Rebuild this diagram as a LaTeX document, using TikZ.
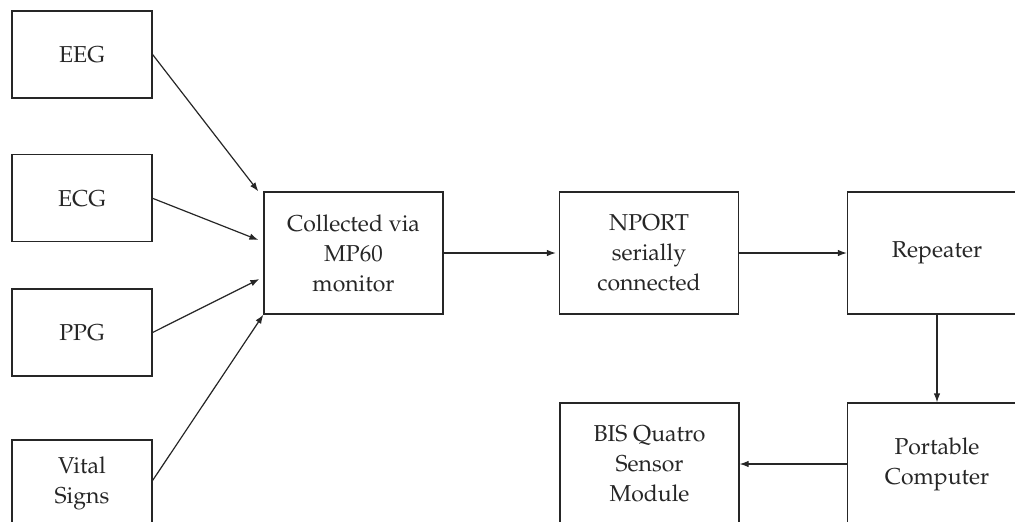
\documentclass[tikz,border=0pt]{standalone}
\usepackage[T1]{fontenc}
\usepackage{mathpazo}
\usetikzlibrary{arrows.meta,calc}
\begin{document}
\begin{tikzpicture}[x=1pt,y=-1pt,
  box/.style={draw=black!85,line width=1.2pt,inner sep=0pt,align=center,
    font=\fontsize{23}{30}\selectfont,text=black!85},
  smallbox/.style={box,minimum width=140pt,minimum height=87pt},
  bigbox/.style={box,minimum width=179pt,minimum height=122pt},
  conn/.style={draw=black!85,line width=1.2pt,-{Latex[length=9pt,width=6.5pt]}}]
\useasboundingbox (0,0) rectangle (1015,522);
\clip (0,0) rectangle (1015,522);
\node[smallbox] (eeg) at (82,54.5) {EEG};
\node[smallbox] (ecg) at (82,198.3) {ECG};
\node[smallbox] (ppg) at (82,332.5) {PPG};
\node[smallbox] (vital) at (82,483.5) {Vital\\Signs};
\node[bigbox] (col) at (353.5,253) {Collected via\\MP60\\monitor};
\node[bigbox] (nport) at (649,253) {NPORT\\serially\\connected};
\node[bigbox] (rep) at (937,253) {Repeater};
\node[bigbox] (bis) at (649.5,464) {BIS Quatro\\Sensor\\Module};
\node[bigbox] (pc) at (937,464) {Portable\\Computer};
\coordinate (t1) at ($(col.north west)+(-5,0)$);
\coordinate (t2) at ($(col.west)+(-5,-13)$);
\coordinate (t3) at ($(col.west)+(-4,26)$);
\draw[conn] (eeg.east) -- (t1);
\draw[conn] (ecg.east) -- (t2);
\draw[conn] (ppg.east) -- (t3);
\draw[conn] ($(vital.east)+(0,-3)$) -- (col.south west);
\draw[conn] (col.east) -- ($(nport.west)+(-3,0)$);
\draw[conn] (nport.east) -- (rep.west);
\draw[conn] (rep.south) -- (pc.north);
\draw[conn] (pc.west) -- (bis.east);
\end{tikzpicture}
\end{document}
